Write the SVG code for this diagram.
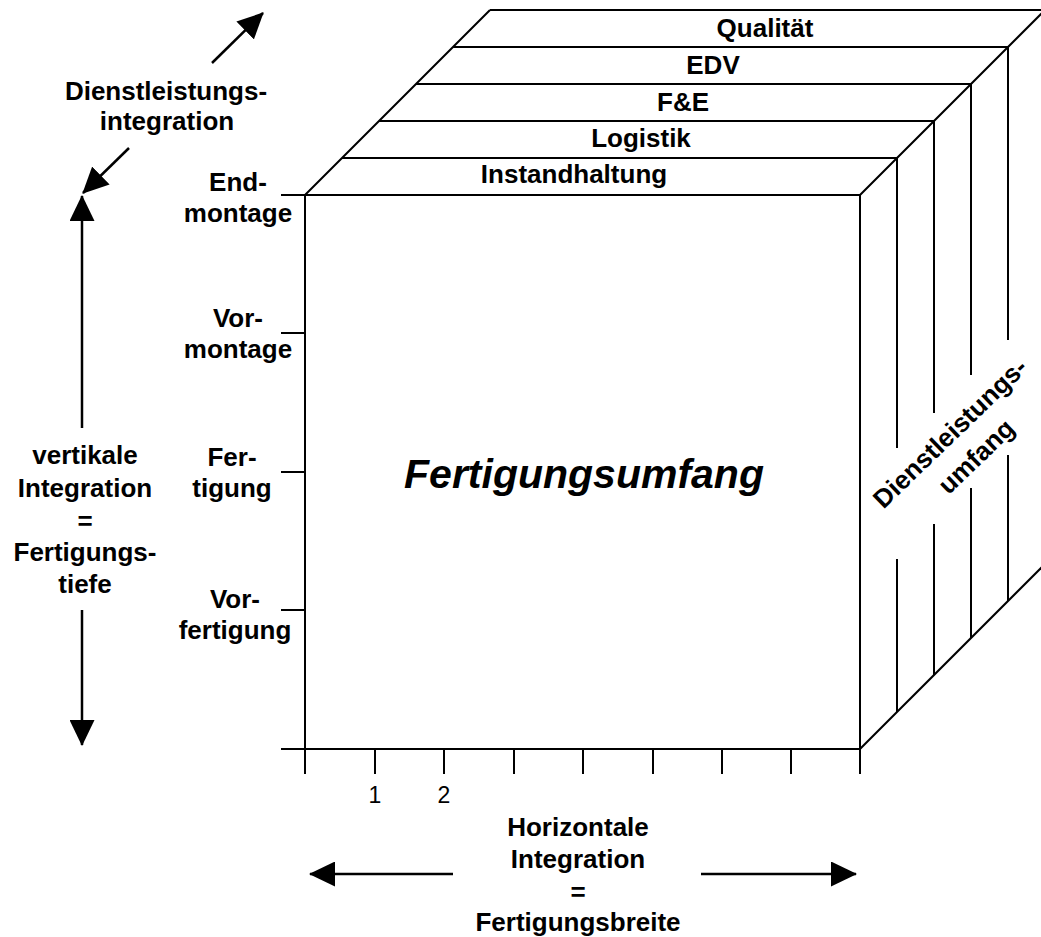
<svg xmlns="http://www.w3.org/2000/svg" width="1041" height="937" viewBox="0 0 1041 937">
<style>
.ln{stroke:#000;stroke-width:2;fill:none;stroke-linecap:butt}
.ar{stroke:#000;stroke-width:2.5;fill:none}
.t{font-family:"Liberation Sans",Arial,sans-serif;font-size:26px;font-weight:bold;fill:#000;text-anchor:middle}
.n{font-family:"Liberation Sans",Arial,sans-serif;font-size:23px;fill:#000;text-anchor:middle}
.big{font-family:"Liberation Sans",Arial,sans-serif;font-size:41px;font-weight:bold;font-style:italic;fill:#000;text-anchor:middle}
</style>
<defs>
<marker id="ah" viewBox="0 0 26 25" refX="25" refY="12.5" markerWidth="26" markerHeight="25" markerUnits="userSpaceOnUse" orient="auto">
<path d="M0,0 L26,12.5 L0,25 Z" fill="#000"/>
</marker>
</defs>
<rect width="1041" height="937" fill="#fff"/>

<g id="front-face">
<rect class="ln" x="305" y="195" width="555" height="554"/>
<path class="ln" d="M305,749 V774 M860,749 V774 M375,749 V774 M444,749 V774 M514,749 V774 M583,749 V774 M653,749 V774 M722,749 V774 M791,749 V774"/>
<path class="ln" d="M281,195 H305 M281,333 H305 M281,472 H305 M281,610 H305 M281,749 H305"/>
<text class="big" x="584" y="488">Fertigungsumfang</text>
</g>

<g id="top-slabs">
<path class="ln" d="M305,195 L490,10 M860,195 L1045,10 M342,158 H897 M379,121 H934 M416,84 H971 M453,47 H1008 M490,10 H1045"/>
<text class="t" x="765" y="37">Qualität</text>
<text class="t" x="713" y="74">EDV</text>
<text class="t" x="683" y="111">F&amp;E</text>
<text class="t" x="641" y="147">Logistik</text>
<text class="t" x="574" y="183">Instandhaltung</text>
</g>

<g id="side-face">
<path class="ln" d="M860,749 L1045,564"/>
<path class="ln" d="M897,158 V448 M897,559 V712 M934,121 V413 M934,524 V675 M971,84 V375 M971,488 V638 M1008,47 V340 M1008,455 V601"/>
<g transform="translate(950,433) rotate(-44)">
<text class="t" x="0" y="9">Dienstleistungs-</text>
<text class="t" x="2.5" y="44">umfang</text>
</g>
</g>

<g id="stage-labels">
<text class="t" x="238" y="191">End-</text>
<text class="t" x="238" y="222">montage</text>
<text class="t" x="238" y="327">Vor-</text>
<text class="t" x="238" y="358">montage</text>
<text class="t" x="232" y="466">Fer-</text>
<text class="t" x="232" y="497">tigung</text>
<text class="t" x="235" y="608">Vor-</text>
<text class="t" x="235" y="639">fertigung</text>
</g>

<g id="scale-labels">
<text class="n" x="375" y="803">1</text>
<text class="n" x="444" y="803">2</text>
</g>

<g id="service-integration">
<text class="t" x="166" y="100">Dienstleistungs-</text>
<text class="t" x="167" y="130">integration</text>
</g>

<g id="vertical-integration">
<text class="t" x="85" y="464">vertikale</text>
<text class="t" x="85" y="497">Integration</text>
<text class="t" x="85" y="530">=</text>
<text class="t" x="85" y="561">Fertigungs-</text>
<text class="t" x="85" y="593">tiefe</text>
</g>

<g id="horizontal-integration">
<text class="t" x="578" y="836">Horizontale</text>
<text class="t" x="578" y="868">Integration</text>
<text class="t" x="578" y="901">=</text>
<text class="t" x="578" y="931">Fertigungsbreite</text>
</g>

<g id="connectors">
<line class="ar" x1="212" y1="63" x2="263" y2="13" marker-end="url(#ah)"/>
<line class="ar" x1="129" y1="148" x2="83" y2="193" marker-end="url(#ah)"/>
<line class="ar" x1="82" y1="428" x2="82" y2="196" marker-end="url(#ah)"/>
<line class="ar" x1="82" y1="610" x2="82" y2="745" marker-end="url(#ah)"/>
<line class="ar" x1="453" y1="874" x2="310" y2="874" marker-end="url(#ah)"/>
<line class="ar" x1="701" y1="874" x2="856" y2="874" marker-end="url(#ah)"/>
</g>
</svg>
